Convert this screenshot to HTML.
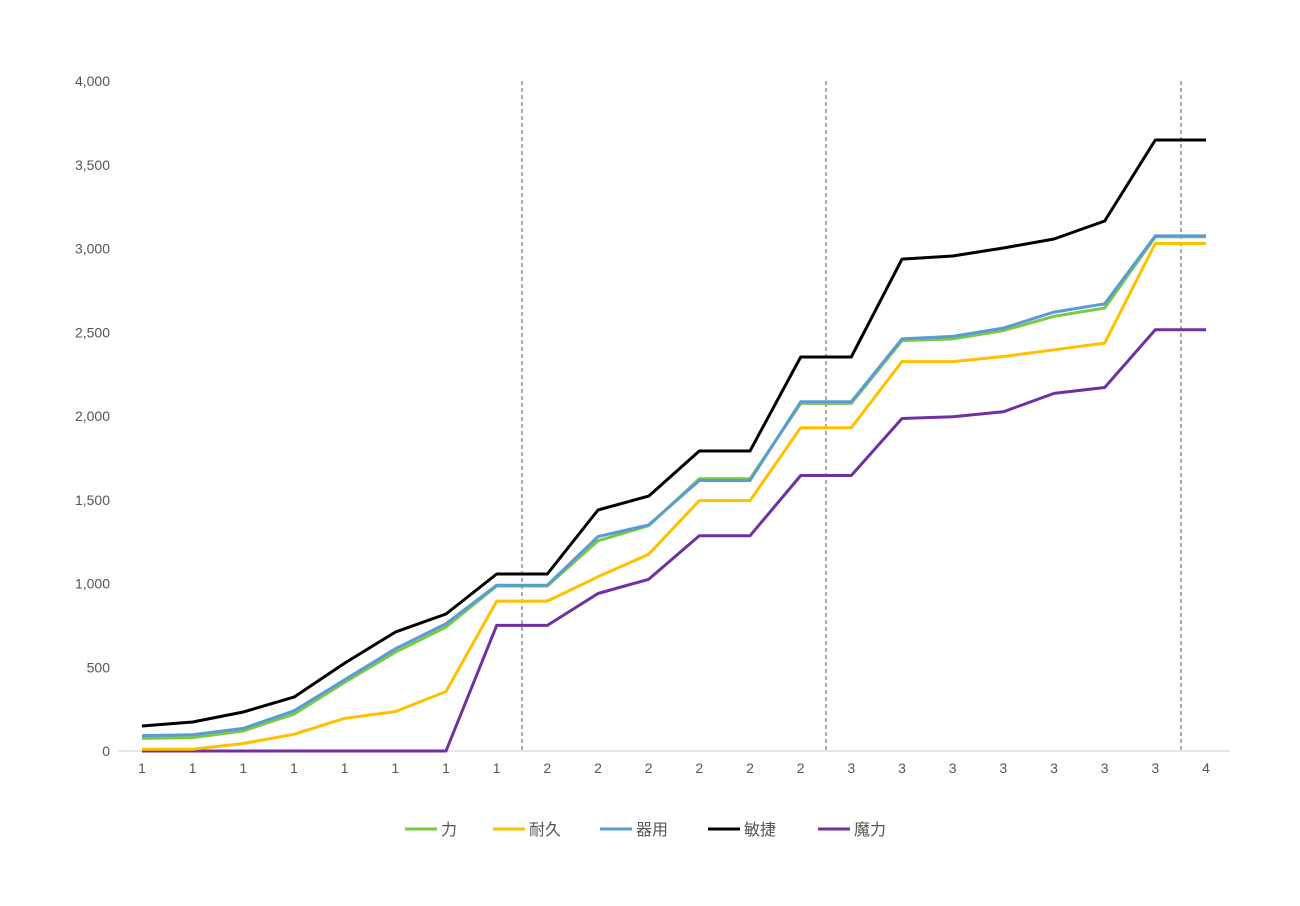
<!DOCTYPE html>
<html><head><meta charset="utf-8"><style>
body{margin:0;background:#fff;}
svg text{font-family:"Liberation Sans","Noto Sans CJK JP",sans-serif;fill:#555;font-size:14px;}
svg .lg text{font-size:16px;}
</style></head><body>
<svg width="1300" height="901" xmlns="http://www.w3.org/2000/svg">
<g id="yl" text-anchor="end"></g>
<line x1="118" y1="751" x2="1230" y2="751" stroke="#ccc" stroke-width="1"/>
<g stroke="#555" stroke-dasharray="4,3" stroke-width="1">
<line x1="522" y1="81" x2="522" y2="751"/>
<line x1="826" y1="81" x2="826" y2="751"/>
<line x1="1181" y1="81" x2="1181" y2="751"/>
</g>
<g id="lines" fill="none" stroke-width="3" stroke-linejoin="round"></g>
<g id="xl" text-anchor="middle"></g>
<g class="lg">
<line x1="405" y1="829" x2="437" y2="829" stroke="#7ac943" stroke-width="3"/><text x="441" y="835">力</text>
<line x1="493" y1="829" x2="525" y2="829" stroke="#ffc000" stroke-width="3"/><text x="529" y="835">耐久</text>
<line x1="600" y1="829" x2="632" y2="829" stroke="#5b9bd5" stroke-width="3"/><text x="636" y="835">器用</text>
<line x1="708" y1="829" x2="740" y2="829" stroke="#000" stroke-width="3"/><text x="744" y="835">敏捷</text>
<line x1="818" y1="829" x2="850" y2="829" stroke="#7030a0" stroke-width="3"/><text x="854" y="835">魔力</text>
</g>
</svg>
<script>
const ns="http://www.w3.org/2000/svg";
const X=i=>142+i*(1206-142)/21, Y=v=>751-v*670/4000;
const yl=document.getElementById('yl');
for(let v=0;v<=4000;v+=500){const t=document.createElementNS(ns,'text');t.setAttribute('x',110);t.setAttribute('y',Y(v)+5);t.textContent=v.toLocaleString('en-US');yl.appendChild(t);}
const xl=document.getElementById('xl');
const labs=[1,1,1,1,1,1,1,1,2,2,2,2,2,2,3,3,3,3,3,3,3,4];
labs.forEach((l,i)=>{const t=document.createElementNS(ns,'text');t.setAttribute('x',X(i));t.setAttribute('y',773);t.textContent=l;xl.appendChild(t);});
const S=[
["#7030a0",[0,0,0,0,0,0,0,750,750,940,1025,1285,1285,1645,1645,1985,1995,2025,2135,2170,2515,2515]],
["#ffc000",[10,10,45,100,195,235,355,895,895,1040,1175,1495,1495,1930,1930,2325,2325,2355,2395,2435,3030,3030]],
["#7ac943",[75,80,120,220,410,590,740,985,985,1255,1345,1625,1625,2075,2075,2450,2460,2510,2595,2645,3070,3070]],
["#5b9bd5",[92,97,135,240,425,610,760,990,990,1280,1350,1615,1615,2085,2085,2460,2475,2525,2620,2670,3075,3075]],
["#000",[149,173,233,322,525,710,818,1057,1057,1439,1522,1791,1791,2352,2352,2937,2955,3003,3057,3164,3648,3648]]];
const g=document.getElementById('lines');
S.forEach(([c,d])=>{const p=document.createElementNS(ns,'polyline');p.setAttribute('points',d.map((v,i)=>X(i).toFixed(1)+','+Y(v).toFixed(1)).join(' '));p.setAttribute('stroke',c);g.appendChild(p);});
</script>
</body></html>
